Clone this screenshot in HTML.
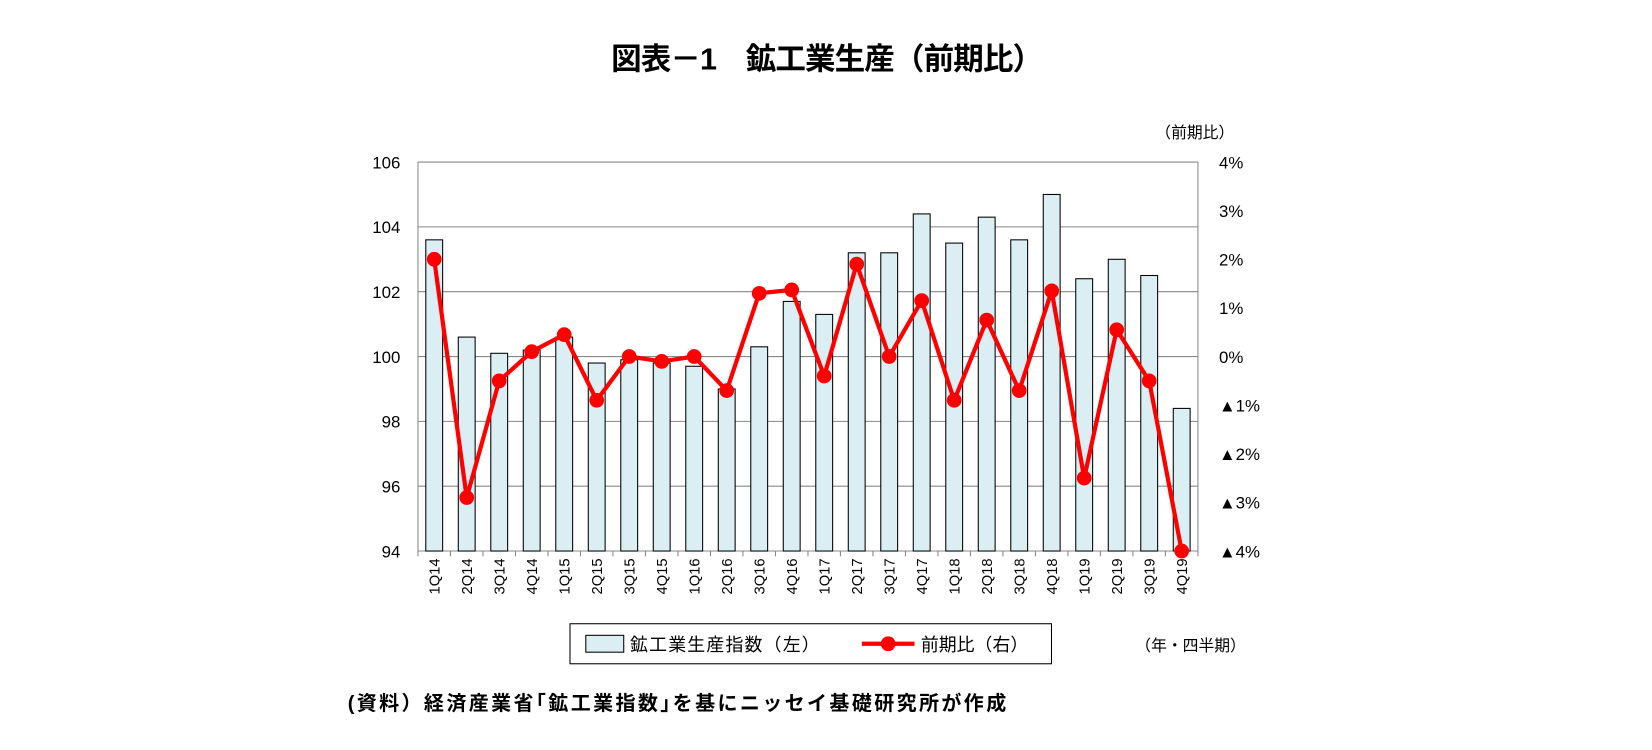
<!DOCTYPE html>
<html><head><meta charset="utf-8"><style>
body{margin:0;background:#fff;}
svg text{font-family:"Liberation Sans","Noto Sans CJK JP",sans-serif;}
</style></head><body>
<svg width="1652" height="745" viewBox="0 0 1652 745" xmlns="http://www.w3.org/2000/svg">
<rect width="1652" height="745" fill="#fff"/>
<g transform="scale(1.0536)">
<text x="785" y="66" font-size="29" font-weight="bold" text-anchor="middle" textLength="410">図表－1　鉱工業生産（前期比）</text>
<text x="1134" y="131" font-size="15" text-anchor="middle">（前期比）</text>
<g id="grid" stroke="#888" stroke-width="1"></g>
<g id="bars"></g>
<g id="line"></g>
<g id="labels" font-size="16"></g>
<rect x="541" y="592" width="457" height="38" fill="#fff" stroke="#000" stroke-width="1"/>
<rect x="556" y="603" width="36" height="16" fill="#daeef3" stroke="#000"/>
<text x="598" y="618" font-size="17" textLength="180">鉱工業生産指数（左）</text>
<line x1="818" y1="611" x2="868" y2="611" stroke="#f00" stroke-width="4"/>
<circle cx="843" cy="611" r="7" fill="#f00"/>
<text x="874" y="618" font-size="17">前期比（右）</text>
<text x="1130" y="618" font-size="15" text-anchor="middle">（年・四半期）</text>
<text x="330" y="674" font-size="19" font-weight="bold" textLength="625">(資料）経済産業省｢鉱工業指数｣を基にニッセイ基礎研究所が作成</text>
</g>
<script>
const L=396.7,R=1137,T=153.8,B=523,n=24,w=(R-L)/n;
const ns="http://www.w3.org/2000/svg";
function el(t,a,p,txt){const e=document.createElementNS(ns,t);for(const k in a)e.setAttribute(k,a[k]);if(txt!==undefined)e.textContent=txt;document.getElementById(p).appendChild(e);return e;}
const yl=v=>T+(106-v)/12*(B-T), yr=v=>T+(4-v)/8*(B-T);
for(let v=94;v<=106;v+=2){const y=yl(v);el('line',{x1:L,x2:R,y1:y,y2:y,stroke:'#888'},'grid');
el('text',{x:380,y:y+6,'text-anchor':'end'},'labels',String(v));}
el('line',{x1:L,x2:L,y1:T,y2:B,stroke:'#888'},'grid');
el('line',{x1:R,x2:R,y1:T,y2:B,stroke:'#888'},'grid');
for(let i=0;i<=n;i++){const x=L+w*i;el('line',{x1:x,x2:x,y1:B,y2:B+5,stroke:'#888'},'grid');}
const rl=['4%','3%','2%','1%','0%','▲1%','▲2%','▲3%','▲4%'];
rl.forEach((s,i)=>el('text',{x:1157,y:T+i*(B-T)/8+6},'labels',s));
const cats=['1Q14','2Q14','3Q14','4Q14','1Q15','2Q15','3Q15','4Q15','1Q16','2Q16','3Q16','4Q16','1Q17','2Q17','3Q17','4Q17','1Q18','2Q18','3Q18','4Q18','1Q19','2Q19','3Q19','4Q19'];
const bv=[103.6,100.6,100.1,100.2,100.6,99.8,99.9,99.8,99.7,99.0,100.3,101.7,101.3,103.2,103.2,104.4,103.5,104.3,103.6,105.0,102.4,103.0,102.5,98.4];
const lv=[2.0,-2.9,-0.5,0.1,0.45,-0.9,0.0,-0.1,0.0,-0.7,1.3,1.37,-0.4,1.9,0.0,1.15,-0.9,0.75,-0.7,1.35,-2.5,0.55,-0.5,-4.0];
let pts=[];
cats.forEach((c,i)=>{const cx=L+w*(i+0.5);const y=yl(bv[i]);
el('rect',{x:cx-8,y:y,width:16,height:B-y,fill:'#daeef3',stroke:'#000','stroke-width':1},'bars');
el('text',{x:0,y:0,transform:`translate(${cx+5},${530}) rotate(-90)`,'text-anchor':'end','font-size':14},'labels',c);
pts.push([cx,yr(lv[i])]);});
el('polyline',{points:pts.map(p=>p.join(',')).join(' '),fill:'none',stroke:'#f00','stroke-width':4},'line');
pts.forEach(p=>el('circle',{cx:p[0],cy:p[1],r:7,fill:'#f00'},'line'));
</script>
</svg>
</body></html>
